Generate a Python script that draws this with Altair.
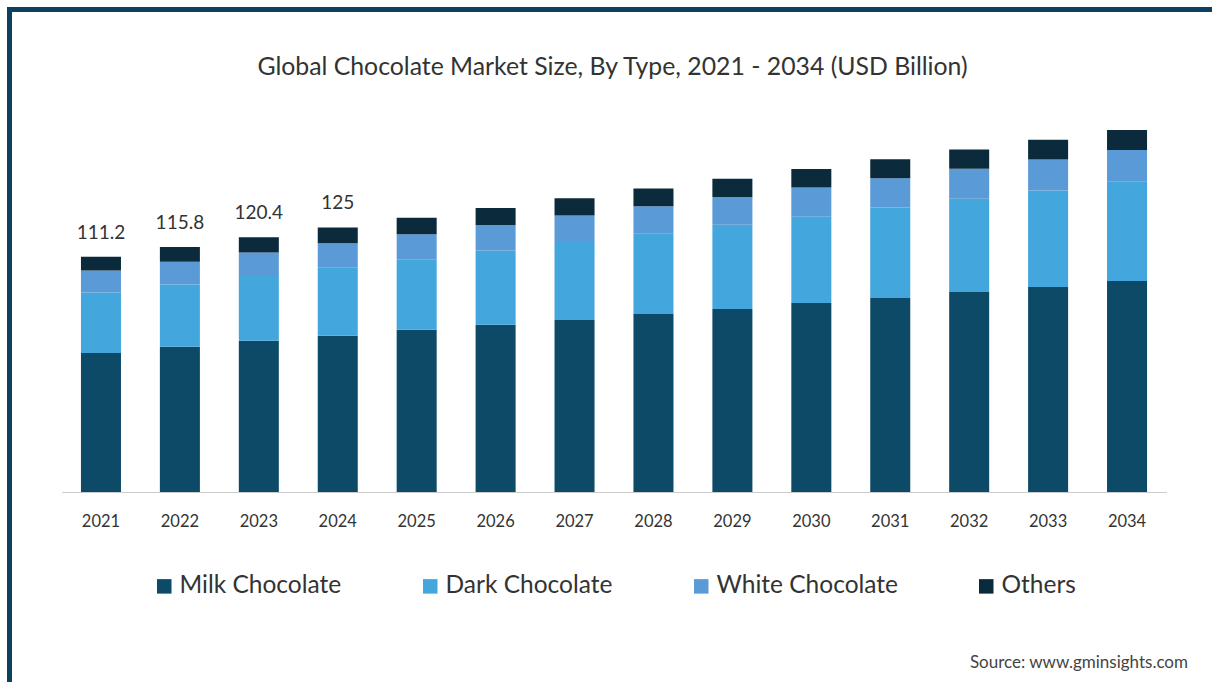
import altair as alt
import pandas as pd

years = [str(y) for y in range(2021, 2035)]
milk = [65.7, 68.6, 71.4, 73.8, 76.6, 79.0, 81.3, 84.1, 86.5, 89.3, 91.7, 94.5, 96.9, 99.7]
dark = [28.5, 29.4, 30.6, 32.2, 33.4, 35.1, 36.8, 38.1, 39.8, 41.0, 42.7, 44.0, 45.6, 46.9]
white = [10.4, 10.8, 11.1, 11.5, 11.8, 12.1, 12.5, 12.8, 13.1, 13.5, 13.8, 14.2, 14.6, 15.0]
others = [6.6, 7.0, 7.3, 7.5, 7.8, 8.0, 8.2, 8.4, 8.6, 8.8, 9.0, 9.1, 9.3, 9.4]
series_names = ["Milk Chocolate", "Dark Chocolate", "White Chocolate", "Others"]
series_colors = ["#0c4a67", "#43a6dc", "#5a9ad6", "#0b2b3c"]
label_years = ["2021", "2022", "2023", "2024"]
label_values = ["111.2", "115.8", "120.4", "125"]
label_totals = [111.2, 115.8, 120.4, 125.0]
title_text = "Global Chocolate Market Size, By Type, 2021 - 2034 (USD Billion)"
source_text = "Source: www.gminsights.com"

FONT = "Lato"
W, H = 1105, 381
LEFT, TOP = 61.5, 111
RIGHT = 1212 - LEFT - W
BOTTOM = 682 - TOP - H

rows = []
for i, y in enumerate(years):
    for k, (name, vals) in enumerate(zip(series_names, [milk, dark, white, others])):
        rows.append({"year": y, "type": name, "value": vals[i], "order": k})
df = pd.DataFrame(rows)

xscale = alt.Scale(domain=years, paddingInner=0.493, paddingOuter=0.2465)
yscale = alt.Scale(domain=[0, 180])

bars = alt.Chart(df).mark_bar().encode(
    x=alt.X("year:N", scale=xscale, sort=years,
            axis=alt.Axis(title=None, labelAngle=0, ticks=False, labelFontSize=16.5,
                          labelColor="#333333", labelFont=FONT, labelPadding=21,
                          domainColor="#cccccc", domainWidth=1)),
    y=alt.Y("value:Q", scale=yscale, stack="zero", axis=None),
    color=alt.Color("type:N", scale=alt.Scale(domain=series_names, range=series_colors),
                    legend=alt.Legend(title=None, orient="none", direction="horizontal",
                                      legendX=90.5, legendY=463, columns=4,
                                      columnPadding=76, symbolType="square",
                                      symbolSize=210, symbolStrokeWidth=0,
                                      labelFontSize=24.5, labelFont=FONT, labelLimit=0,
                                      labelColor="#333333", labelOffset=3,
                                      padding=0, symbolOpacity=1)),
    order=alt.Order("order:Q", sort="ascending"),
)

lab_df = pd.DataFrame({"year": label_years, "label": label_values, "total": label_totals})
labels = alt.Chart(lab_df).mark_text(dy=-14, fontSize=19, font=FONT, color="#333333",
                                     baseline="bottom").encode(
    x=alt.X("year:N", scale=xscale, sort=years),
    y=alt.Y("total:Q", scale=yscale),
    text="label:N",
)

one = pd.DataFrame({"a": [0]})

title = alt.Chart(pd.DataFrame({"t": [title_text]})).mark_text(
    align="center", baseline="middle", fontSize=24.8, font=FONT, color="#333333"
).encode(x=alt.value(612.5 - LEFT), y=alt.value(68 - TOP), text="t:N")

src = alt.Chart(pd.DataFrame({"t": [source_text]})).mark_text(
    align="right", baseline="middle", fontSize=17, font=FONT, color="#444444"
).encode(x=alt.value(1188 - LEFT), y=alt.value(663 - TOP), text="t:N")

border_color = "#0d3f5f"
top_border = alt.Chart(one).mark_rule(
    color=border_color, strokeWidth=5
).encode(x=alt.value(7 - LEFT), x2=alt.value(1212 - LEFT), y=alt.value(9.5 - TOP))
left_border = alt.Chart(one).mark_rule(
    color=border_color, strokeWidth=5
).encode(x=alt.value(9.5 - LEFT), y=alt.value(7 - TOP), y2=alt.value(682 - TOP))

chart = alt.layer(bars, labels, title, src, top_border, left_border).properties(
    width=W, height=H,
    autosize=alt.AutoSizeParams(type="none"),
    padding={"left": LEFT, "top": TOP, "right": RIGHT, "bottom": BOTTOM},
    background="white",
).configure_view(strokeWidth=0)

chart.save("out.html", embed_options={"renderer": "svg", "actions": False})
